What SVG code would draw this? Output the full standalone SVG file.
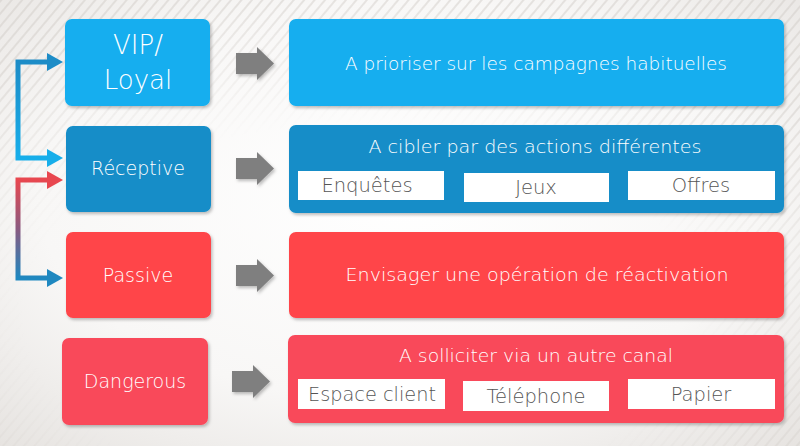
<svg xmlns="http://www.w3.org/2000/svg" width="800" height="446" viewBox="0 0 800 446">
<defs>
<style>
.lbl{font-family:"DejaVu Sans","Liberation Sans",sans-serif;font-weight:200;fill:#ffffff;text-anchor:middle}
.sub{font-family:"DejaVu Sans","Liberation Sans",sans-serif;font-weight:200;fill:#555555;text-anchor:middle;font-size:19.5px}
.chip{fill:#ffffff}
.garrow{fill:#7f7f7f}
</style>
<radialGradient id="bg" cx="0.5" cy="0.45" r="0.75">
<stop offset="0" stop-color="#ffffff"/>
<stop offset="0.6" stop-color="#f8f7f6"/>
<stop offset="1" stop-color="#e6e3e0"/>
</radialGradient>
<pattern id="stripes" width="8" height="8" patternUnits="userSpaceOnUse" patternTransform="rotate(40)">
<rect width="2" height="8" fill="#cfcac5"/>
</pattern>
<radialGradient id="fade" cx="0.45" cy="0.7" r="0.7">
<stop offset="0.6" stop-color="#000"/>
<stop offset="1" stop-color="#fff"/>
</radialGradient>
<mask id="edgeMask"><rect width="800" height="446" fill="url(#fade)"/></mask>
<filter id="sh" x="-10%" y="-10%" width="125%" height="130%">
<feDropShadow dx="1.5" dy="2" stdDeviation="1.8" flood-color="#000" flood-opacity="0.25"/>
</filter>
<linearGradient id="gBlue" gradientUnits="userSpaceOnUse" x1="0" y1="62" x2="0" y2="158">
<stop offset="0" stop-color="#1d8cc7"/>
<stop offset="1" stop-color="#17aeea"/>
</linearGradient>
<linearGradient id="gRed" gradientUnits="userSpaceOnUse" x1="0" y1="180" x2="0" y2="278">
<stop offset="0" stop-color="#e8474f"/>
<stop offset="0.5" stop-color="#8a5a80"/>
<stop offset="1" stop-color="#1f88c0"/>
</linearGradient>
<marker id="mDarkBlue" markerUnits="userSpaceOnUse" markerWidth="16" markerHeight="18" refX="0" refY="9" orient="auto-start-reverse"><path d="M0,0 L16,9 L0,18 Z" fill="#1d8cc7"/></marker>
<marker id="mLightBlue" markerUnits="userSpaceOnUse" markerWidth="16" markerHeight="18" refX="0" refY="9" orient="auto-start-reverse"><path d="M0,0 L16,9 L0,18 Z" fill="#17aeea"/></marker>
<marker id="mRed" markerUnits="userSpaceOnUse" markerWidth="16" markerHeight="18" refX="0" refY="9" orient="auto-start-reverse"><path d="M0,0 L16,9 L0,18 Z" fill="#e8474f"/></marker>
<marker id="mBlue2" markerUnits="userSpaceOnUse" markerWidth="16" markerHeight="18" refX="0" refY="9" orient="auto-start-reverse"><path d="M0,0 L16,9 L0,18 Z" fill="#1f88c0"/></marker>
<path id="garr" d="M0,6 H21 V0 L38,16.5 L21,33 V27 H0 Z"/>
</defs>

<rect width="800" height="446" fill="url(#bg)"/>
<rect width="800" height="446" fill="url(#stripes)" mask="url(#edgeMask)" opacity="0.45"/>

<g id="connectors">
<path d="M47,62 H18 V158 H47" fill="none" stroke="url(#gBlue)" stroke-width="5" marker-start="url(#mDarkBlue)" marker-end="url(#mLightBlue)"/>
<path d="M47,180 H18 V278 H47" fill="none" stroke="url(#gRed)" stroke-width="5" marker-start="url(#mRed)" marker-end="url(#mBlue2)"/>
</g>

<g id="arrows" filter="url(#sh)">
<use href="#garr" class="garrow" transform="translate(236,47)"/>
<use href="#garr" class="garrow" transform="translate(236,152)"/>
<use href="#garr" class="garrow" transform="translate(236,259)"/>
<use href="#garr" class="garrow" transform="translate(232,365)"/>
</g>

<g id="vip">
<rect x="65" y="19" width="145" height="87" rx="7" fill="#13aeef" filter="url(#sh)"/>
<text class="lbl" x="138" y="54" font-size="26">VIP/</text>
<text class="lbl" x="138" y="89" font-size="26">Loyal</text>
</g>
<g id="receptive">
<rect x="66" y="126" width="145" height="86" rx="7" fill="#138dc8" filter="url(#sh)"/>
<text class="lbl" x="138" y="175" font-size="19">Réceptive</text>
</g>
<g id="passive">
<rect x="66" y="232" width="145" height="86" rx="7" fill="#ff4448" filter="url(#sh)"/>
<text class="lbl" x="138" y="282" font-size="19">Passive</text>
</g>
<g id="dangerous">
<rect x="62" y="338" width="146" height="87" rx="7" fill="#f9485a" filter="url(#sh)"/>
<text class="lbl" x="135" y="388" font-size="19">Dangerous</text>
</g>

<g id="action1">
<rect x="289" y="19" width="495" height="87" rx="7" fill="#13aeef" filter="url(#sh)"/>
<text class="lbl" x="536" y="70" font-size="18.5" textLength="382" lengthAdjust="spacingAndGlyphs">A prioriser sur les campagnes habituelles</text>
</g>
<g id="action2">
<rect x="289" y="125" width="495" height="88" rx="7" fill="#138dc8" filter="url(#sh)"/>
<text class="lbl" x="535" y="153" font-size="18.5" textLength="333" lengthAdjust="spacingAndGlyphs">A cibler par des actions différentes</text>
<rect class="chip" x="298" y="171" width="146" height="29"/>
<text class="sub" x="367" y="192">Enquêtes</text>
<rect class="chip" x="464" y="173" width="145" height="29"/>
<text class="sub" x="536" y="194">Jeux</text>
<rect class="chip" x="628" y="171" width="147" height="29"/>
<text class="sub" x="701" y="192">Offres</text>
</g>
<g id="action3">
<rect x="289" y="232" width="495" height="86" rx="7" fill="#ff4448" filter="url(#sh)"/>
<text class="lbl" x="537" y="281" font-size="18.5" textLength="383" lengthAdjust="spacingAndGlyphs">Envisager une opération de réactivation</text>
</g>
<g id="action4">
<rect x="288" y="335" width="496" height="88" rx="7" fill="#f9485a" filter="url(#sh)"/>
<text class="lbl" x="536" y="362" font-size="18.5" textLength="274" lengthAdjust="spacingAndGlyphs">A solliciter via un autre canal</text>
<rect class="chip" x="298" y="379" width="147" height="30"/>
<text class="sub" x="372" y="401" textLength="128" lengthAdjust="spacingAndGlyphs">Espace client</text>
<rect class="chip" x="463" y="381" width="146" height="30"/>
<text class="sub" x="536" y="403">Téléphone</text>
<rect class="chip" x="628" y="379" width="147" height="30"/>
<text class="sub" x="701" y="401">Papier</text>
</g>
</svg>
